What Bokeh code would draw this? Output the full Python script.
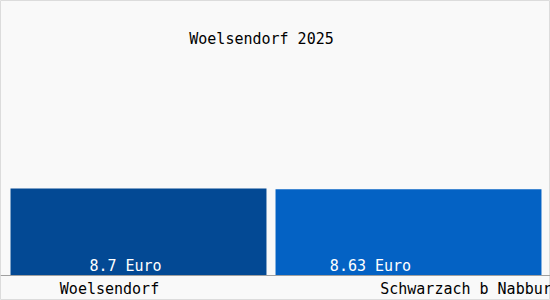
from bokeh.plotting import figure
from bokeh.models import Range1d, Span, ColumnDataSource
from bokeh.core.properties import value
from bokeh.embed import file_html
from bokeh.resources import INLINE

# data
categories = ["Woelsendorf", "Schwarzach b Nabburg"]
values = [8.7, 8.63]
value_labels = ["8.7 Euro", "8.63 Euro"]
title_text = "Woelsendorf 2025"

# styles / layout
bar_colors = ["#034994", "#0462c4"]
bar_widths = [0.948, 0.985]
value_label_shift_px = [-13, -38]
cat_label_shift_px = [-29, 62]
FONT = value("DejaVu Sans Mono")
FSIZE = "15px"

W, H = 550, 300
px_per_x = 270.0
x0_px = 138.0
px_per_y = 10.0
y0_px = 275.0  # pixel row of y=0 measured from top

x_start = -x0_px / px_per_x
x_end = x_start + W / px_per_x
y_start = -(H - y0_px) / px_per_y
y_end = y_start + H / px_per_y

p = figure(width=W, height=H, output_backend="svg", toolbar_location=None,
           x_range=Range1d(x_start, x_end), y_range=Range1d(y_start, y_end),
           x_axis_type=None, y_axis_type=None, min_border=0)
p.grid.visible = False
p.background_fill_color = "#f9f9f9"
p.border_fill_color = "#f9f9f9"
p.outline_line_color = "#dcdcdc"

xs = list(range(len(categories)))
src = ColumnDataSource(dict(
    x=xs, top=values, color=bar_colors, width=bar_widths,
    vlabel=value_labels, cat=categories,
    vshift=value_label_shift_px, cshift=cat_label_shift_px,
    zero=[0] * len(xs),
))

p.vbar(x="x", top="top", bottom=0, width="width", fill_color="color",
       line_color=None, source=src)

p.add_layout(Span(location=0, dimension="width", line_color="#a0a0a0", line_width=1))

p.text(x="x", y="zero", text="vlabel", x_offset="vshift", y_offset=-1,
       text_align="center", text_baseline="bottom", text_color="white",
       text_font=FONT, text_font_size=FSIZE, source=src)

p.text(x="x", y="zero", text="cat", x_offset="cshift", y_offset=13,
       text_align="center", text_baseline="middle", text_color="black",
       text_font=FONT, text_font_size=FSIZE, source=src)

p.text(x=[(x_start + x_end) / 2], y=[(y0_px - 38) / px_per_y], text=[title_text],
       x_offset=-14, text_align="center", text_baseline="middle", text_color="black",
       text_font=FONT, text_font_size=FSIZE)

open("out.html", "w").write(file_html(p, INLINE))
